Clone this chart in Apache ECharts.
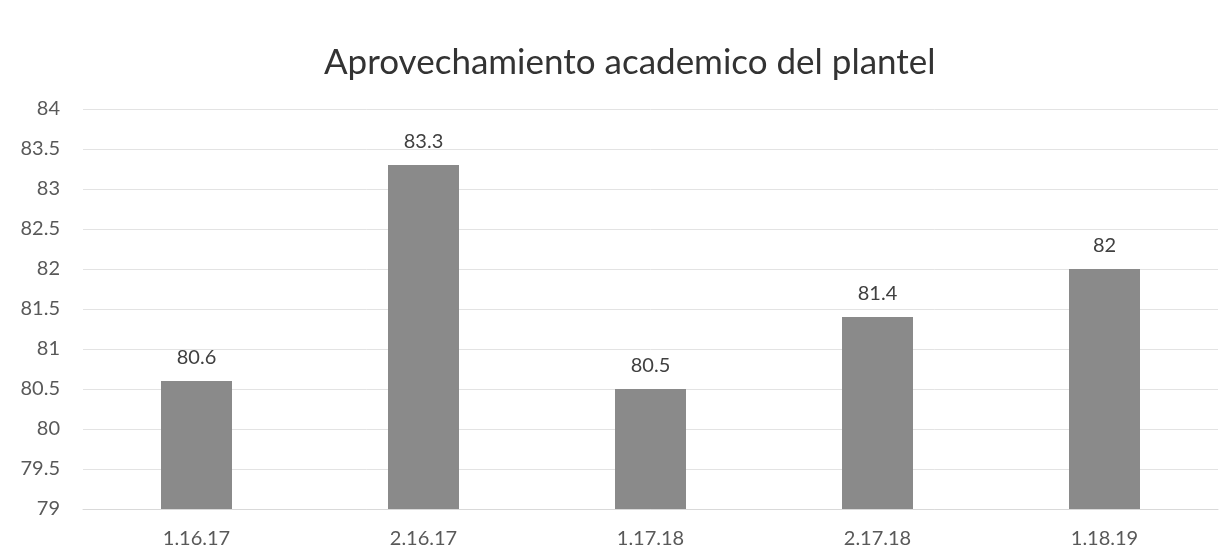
<!DOCTYPE html>
<html><head><meta charset="utf-8">
<script src="https://cdn.jsdelivr.net/npm/echarts@6/dist/echarts.min.js"></script>
<style>html,body{margin:0;padding:0;background:#fff}#c{width:1226px;height:552px}</style>
</head><body><div id="c"></div>
<script>
const categories = ['1.16.17','2.16.17','1.17.18','2.17.18','1.18.19'];
const values = [80.6, 83.3, 80.5, 81.4, 82];
const titleText = 'Aprovechamiento academico del plantel';
const FONT = 'Lato';
const chart = echarts.init(document.getElementById('c'), null, {renderer:'canvas'});
chart.setOption({
  animation:false,
  backgroundColor:'#fff',
  title:{text:titleText,left:319,top:40,textStyle:{fontFamily:FONT,fontSize:35,fontWeight:'normal',color:'#333'}},
  grid:{left:83,right:8,top:109,bottom:43,containLabel:false},
  xAxis:{type:'category',data:categories,
    axisLine:{lineStyle:{color:'#d9d9d9'}},axisTick:{show:false},
    axisLabel:{fontFamily:FONT,fontSize:20,color:'#595959',margin:20}},
  yAxis:{type:'value',min:79,max:84,interval:0.5,
    axisLine:{show:false},axisTick:{show:false},
    splitLine:{lineStyle:{color:'#e3e3e3'}},
    axisLabel:{fontFamily:FONT,fontSize:20,color:'#595959',margin:23}},
  series:[{type:'bar',data:values,barWidth:71,
    itemStyle:{color:'#8a8a8a'},
    label:{show:true,position:'top',distance:13,fontFamily:FONT,fontSize:20,color:'#404040'}}]
});
</script></body></html>
